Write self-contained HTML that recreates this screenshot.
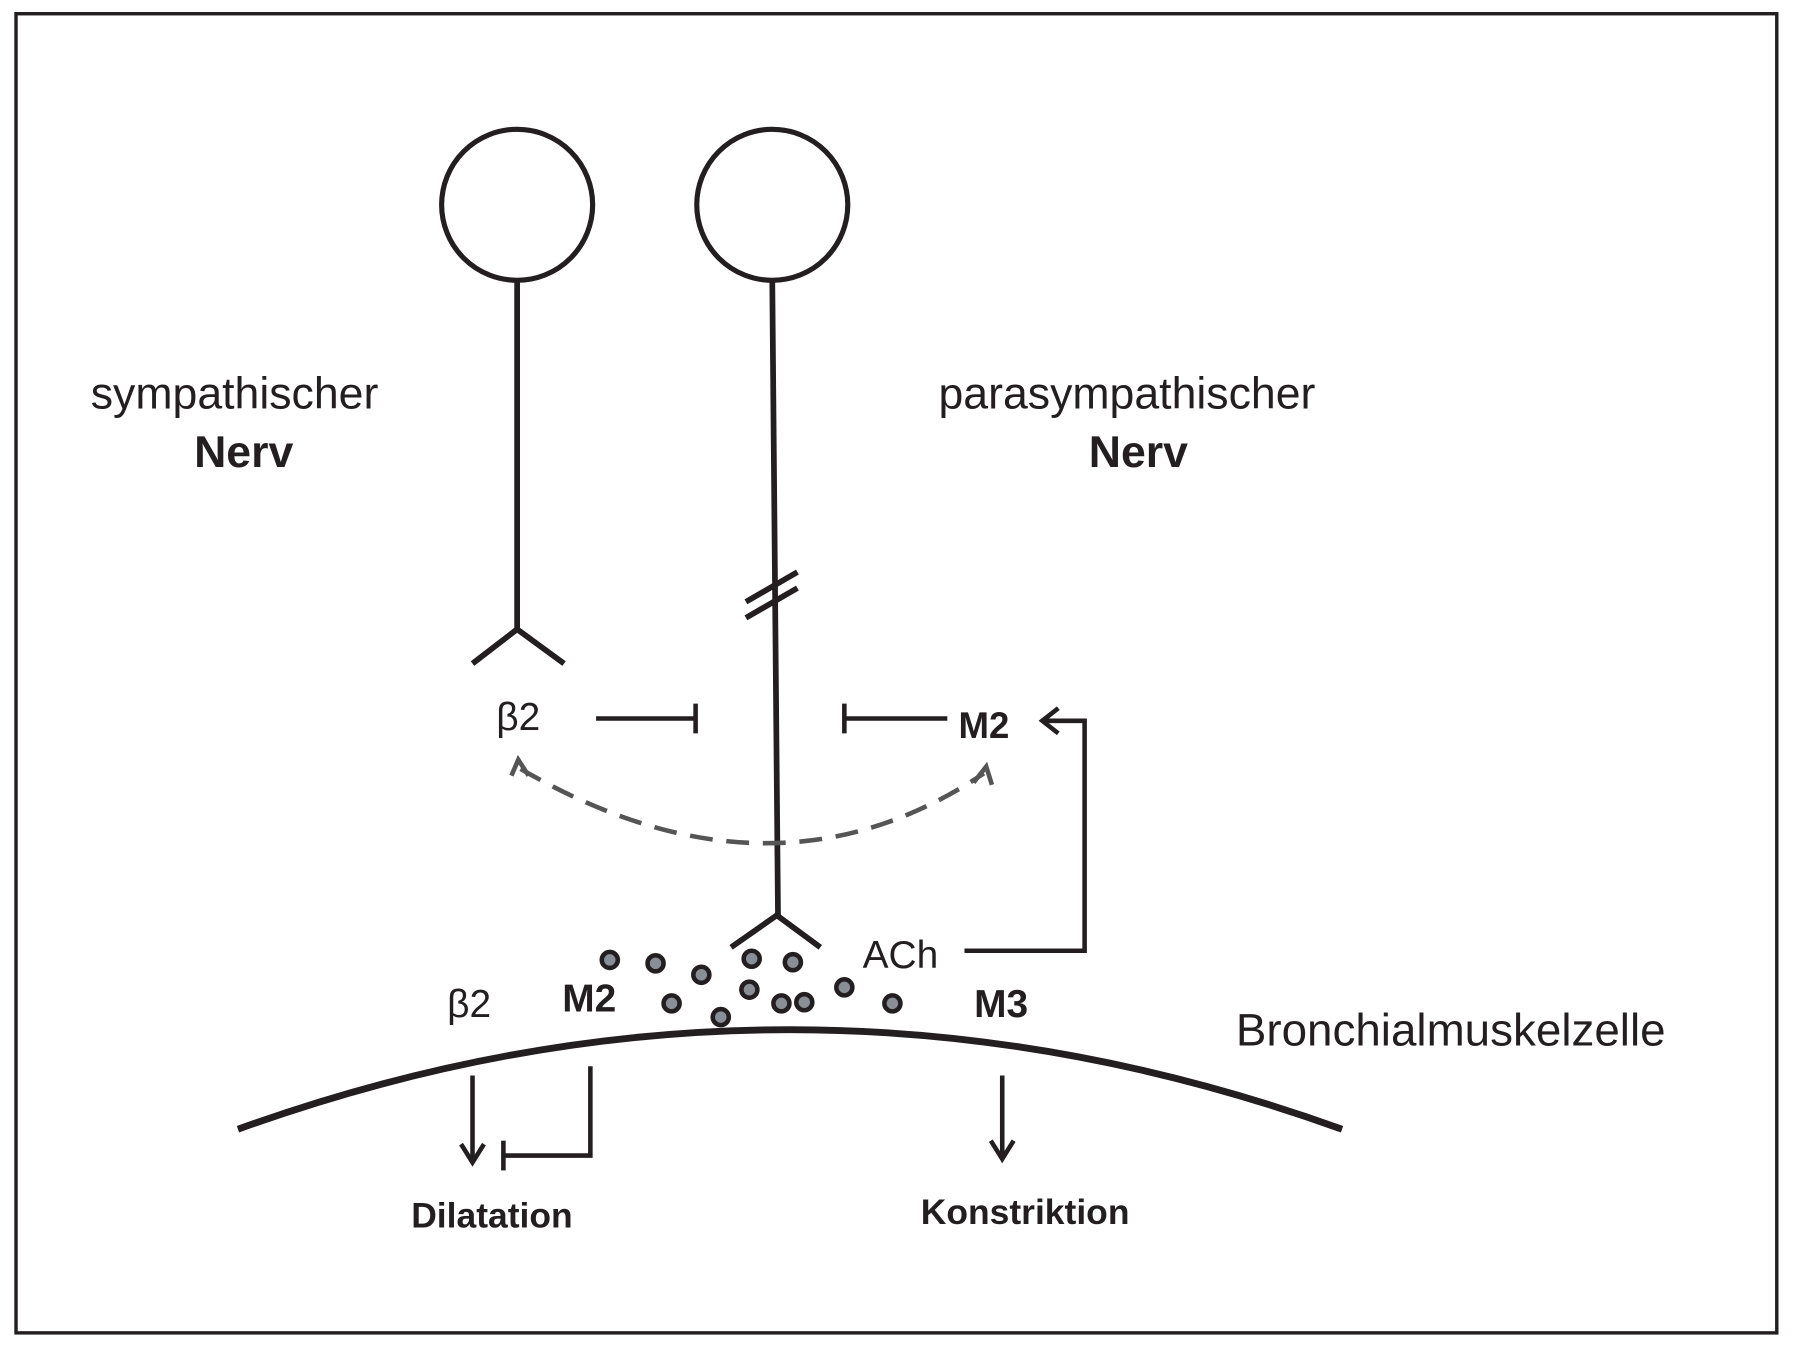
<!DOCTYPE html>
<html><head><meta charset="utf-8"><style>
html,body{margin:0;padding:0;background:#fff;width:1794px;height:1355px;overflow:hidden}
svg{display:block}
text{font-family:"Liberation Sans","DejaVu Sans",sans-serif;fill:#231f20}
</style></head><body>
<svg width="1794" height="1355" viewBox="0 0 1794 1355" xmlns="http://www.w3.org/2000/svg">
<g transform="scale(1.1441)" stroke="#231f20" fill="none" stroke-linecap="butt">
<rect x="14" y="12" width="1539" height="1153" stroke-width="3"/>
<circle cx="452" cy="179" r="66" stroke-width="4.5"/>
<circle cx="675" cy="179" r="66" stroke-width="4.5"/>
<line x1="452" y1="245" x2="452" y2="550" stroke-width="5"/>
<polyline points="413,580 452,550 493,580" stroke-width="5"/>
<line x1="675" y1="245" x2="680" y2="800" stroke-width="5"/>
<line x1="652" y1="526" x2="697" y2="500" stroke-width="5"/>
<line x1="652" y1="540" x2="697" y2="514" stroke-width="5"/>
<polyline points="639,828 679,800 717,828" stroke-width="5"/>
<line x1="521" y1="628" x2="608" y2="628" stroke-width="4"/>
<line x1="608" y1="615" x2="608" y2="641" stroke-width="4"/>
<line x1="738" y1="628" x2="828" y2="628" stroke-width="4"/>
<line x1="738" y1="615" x2="738" y2="641" stroke-width="4"/>
<polyline points="843,831 948,831 948,630 912,630" stroke-width="4"/>
<polyline points="925,619 911,630 925,641" stroke-width="4"/>
<path d="M455,672 Q675,800 860,676" stroke="#555" stroke-width="4" stroke-dasharray="20,12"/>
<polyline points="447,678 453,664 462,678" stroke="#555" stroke-width="4"/>
<polyline points="851,684 862,670 867,686" stroke="#555" stroke-width="4"/>
<path d="M208,987 Q690,813 1173,987" stroke-width="6"/>
<line x1="413" y1="940" x2="413" y2="1015" stroke-width="4"/>
<polyline points="403,1000 413,1016 423,1000" stroke-width="4"/>
<polyline points="516,932 516,1010 440,1010" stroke-width="4"/>
<line x1="440" y1="997" x2="440" y2="1023" stroke-width="4"/>
<line x1="876" y1="940" x2="876" y2="1012" stroke-width="4"/>
<polyline points="866,997 876,1013 886,997" stroke-width="4"/>
<g fill="#8a8f95" stroke-width="4">
<circle cx="533" cy="839" r="7"/><circle cx="573" cy="842" r="7"/>
<circle cx="613" cy="852" r="7"/><circle cx="587" cy="877" r="7"/>
<circle cx="630" cy="889" r="7"/><circle cx="657" cy="838" r="7"/>
<circle cx="693" cy="841" r="7"/><circle cx="655" cy="865" r="7"/>
<circle cx="683" cy="877" r="7"/><circle cx="703" cy="876" r="7"/>
<circle cx="738" cy="863" r="7"/><circle cx="780" cy="877" r="7"/>
</g>
</g>
<g transform="scale(1.1441)" text-anchor="middle">
<text x="205" y="357" font-size="39">sympathischer</text>
<text x="213" y="408" font-size="39" font-weight="bold">Nerv</text>
<text x="985" y="357" font-size="39">parasympathischer</text>
<text x="995" y="408" font-size="39" font-weight="bold">Nerv</text>
<text x="453" y="638" font-size="34">β2</text>
<text x="860" y="645" font-size="32" font-weight="bold">M2</text>
<text x="787" y="846" font-size="34">ACh</text>
<text x="410" y="889" font-size="34">β2</text>
<text x="515" y="884" font-size="34" font-weight="bold">M2</text>
<text x="875" y="889" font-size="34" font-weight="bold">M3</text>
<text x="1268" y="914" font-size="40">Bronchialmuskelzelle</text>
<text x="430" y="1073" font-size="31" font-weight="bold">Dilatation</text>
<text x="896" y="1070" font-size="31" font-weight="bold">Konstriktion</text>
</g>
</svg>
</body></html>
